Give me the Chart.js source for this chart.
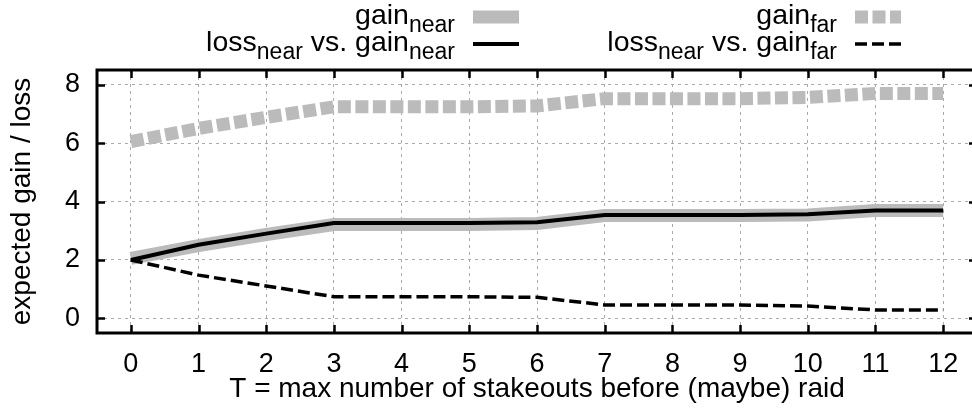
<!DOCTYPE html>
<html><head><meta charset="utf-8">
<script src="https://cdn.jsdelivr.net/npm/chart.js@4/dist/chart.umd.min.js"></script>
<style>
html,body{margin:0;padding:0;background:#fff;overflow:hidden;width:972px;height:409px}
#wrap{width:985px;height:409px;position:relative}
</style>
</head><body><div id="wrap"><canvas id="c" width="985" height="409"></canvas></div>
<script>
// ---- data ----
const categories = [0, 1, 2, 3, 4, 5, 6, 7, 8, 9, 10, 11, 12];
const yTickValues = [0, 2, 4, 6, 8];
const gainNear = [2.05, 2.49, 2.87, 3.21, 3.21, 3.21, 3.25, 3.52, 3.52, 3.52, 3.54, 3.69, 3.69];
const lossNearVsGainNear = [2.0, 2.52, 2.9, 3.26, 3.26, 3.26, 3.29, 3.54, 3.54, 3.54, 3.56, 3.69, 3.69];
const gainFar = [6.05, 6.5, 6.88, 7.24, 7.24, 7.24, 7.27, 7.52, 7.52, 7.52, 7.56, 7.7, 7.7];
const lossNearVsGainFar = [2.0, 1.48, 1.11, 0.74, 0.74, 0.74, 0.72, 0.46, 0.46, 0.46, 0.42, 0.29, 0.29];
const xTitle = 'T = max number of stakeouts before (maybe) raid';
const yTitle = 'expected gain / loss';
// legend labels as [text, isSubscript] segments
const legendNearGain = [['gain', false], ['near', true]];
const legendNearLoss = [['loss', false], ['near', true], [' vs. gain', false], ['near', true]];
const legendFarGain = [['gain', false], ['far', true]];
const legendFarLoss = [['loss', false], ['near', true], [' vs. gain', false], ['far', true]];

const FONT = '"Liberation Sans", Arial, Helvetica, sans-serif';
const GRAY = '#bbbbbb';
const pts = arr => categories.map((c, i) => ({x: c, y: arr[i]}));

const datasets = [
  {label: 'gain_near', data: pts(gainNear), borderColor: GRAY, borderWidth: 13, borderCapStyle: 'butt', borderJoinStyle: 'miter', order: 4, legendSeg: legendNearGain, legendPos: [0, 0]},
  {label: 'gain_far', data: pts(gainFar), borderColor: GRAY, borderWidth: 13, borderDash: [13, 4.5], borderCapStyle: 'butt', order: 3, legendSeg: legendFarGain, legendPos: [1, 0]},
  {label: 'loss_near vs. gain_near', data: pts(lossNearVsGainNear), borderColor: '#000', borderWidth: 4, order: 2, legendSeg: legendNearLoss, legendPos: [0, 1]},
  {label: 'loss_near vs. gain_far', data: pts(lossNearVsGainFar), borderColor: '#000', borderWidth: 3.5, borderDash: [12, 5], borderCapStyle: 'butt', order: 1, legendSeg: legendFarLoss, legendPos: [1, 1]}
];
datasets.forEach(d => { d.pointRadius = 0; d.pointHoverRadius = 0; d.tension = 0; d.fill = false; });

const legendPlugin = {
  id: 'gpLegend',
  afterDraw(chart) {
    const ctx = chart.ctx;
    const colRight = [455, 837];
    const rowBase = [24, 51];
    const rowMid = [17, 44];
    const mainSize = 28.5, subSize = 23, subDrop = 8;
    ctx.save();
    ctx.fillStyle = '#000';
    ctx.textBaseline = 'alphabetic';
    ctx.textAlign = 'left';
    chart.data.datasets.forEach(ds => {
      const [col, row] = ds.legendPos;
      const segs = ds.legendSeg;
      let total = 0;
      const widths = segs.map(([t, sub]) => {
        ctx.font = (sub ? subSize : mainSize) + 'px ' + FONT;
        const w = ctx.measureText(t).width; total += w; return w;
      });
      let x = colRight[col] - total;
      segs.forEach(([t, sub], i) => {
        ctx.font = (sub ? subSize : mainSize) + 'px ' + FONT;
        ctx.fillText(t, x, rowBase[row] + (sub ? subDrop : 0));
        x += widths[i];
      });
      // sample
      const sx = colRight[col] + 18, ex = sx + 46;
      ctx.beginPath();
      ctx.strokeStyle = ds.borderColor;
      ctx.lineWidth = ds.borderWidth;
      ctx.lineCap = 'butt';
      ctx.setLineDash(ds.borderDash || []);
      ctx.moveTo(sx, rowMid[row]);
      ctx.lineTo(ex, rowMid[row]);
      ctx.stroke();
    });
    ctx.restore();
  }
};

const framePlugin = {
  id: 'gpFrame',
  afterDraw(chart) {
    const {ctx, chartArea: a, scales} = chart;
    const tl = 8;
    ctx.save();
    ctx.setLineDash([]);
    ctx.strokeStyle = '#000';
    ctx.lineWidth = 2.5;
    ctx.beginPath();
    scales.x.ticks.forEach(t => {
      const px = Math.round(scales.x.getPixelForValue(t.value)) + 0.5;
      ctx.moveTo(px, a.bottom); ctx.lineTo(px, a.bottom - tl);
      ctx.moveTo(px, a.top); ctx.lineTo(px, a.top + tl);
    });
    scales.y.ticks.forEach(t => {
      const py = Math.round(scales.y.getPixelForValue(t.value)) + 0.5;
      ctx.moveTo(a.left, py); ctx.lineTo(a.left + tl, py);
      ctx.moveTo(a.right, py); ctx.lineTo(a.right - tl, py);
    });
    ctx.stroke();
    ctx.lineWidth = 3;
    ctx.strokeRect(a.left, a.top, a.right - a.left, a.bottom - a.top);
    ctx.restore();
  }
};

new Chart(document.getElementById('c'), {
  type: 'line',
  data: {datasets},
  options: {
    responsive: false,
    animation: false,
    devicePixelRatio: 1,
    layout: {padding: {top: 70, right: 8, left: 0, bottom: 0}},
    plugins: {legend: {display: false}, tooltip: {enabled: false}},
    scales: {
      x: {
        type: 'linear', min: -0.5, max: 12.5,
        afterBuildTicks: s => { s.ticks = categories.map(v => ({value: v})); },
        afterFit: s => { s.height = 76; },
        ticks: {font: {family: FONT, size: 27}, color: '#000', padding: 15, maxRotation: 0, autoSkip: false,
                callback: v => String(v)},
        grid: {color: '#aaaaaa', lineWidth: 1, drawTicks: false},
        border: {display: false, dash: [3, 4]},
        title: {display: true, text: xTitle, font: {family: FONT, size: 28}, color: '#000', padding: {top: 0, bottom: 3}}
      },
      y: {
        type: 'linear', min: -0.5, max: 8.5,
        afterBuildTicks: s => { s.ticks = yTickValues.map(v => ({value: v})); },
        afterFit: s => { s.width = 97; },
        ticks: {font: {family: FONT, size: 27}, color: '#000', padding: 17, callback: v => String(v)},
        grid: {color: '#aaaaaa', lineWidth: 1, drawTicks: false},
        border: {display: false, dash: [3, 4]},
        title: {display: true, text: yTitle, font: {family: FONT, size: 28}, color: '#000', padding: {top: 5, bottom: 0}}
      }
    }
  },
  plugins: [legendPlugin, framePlugin]
});
</script>
</body></html>
